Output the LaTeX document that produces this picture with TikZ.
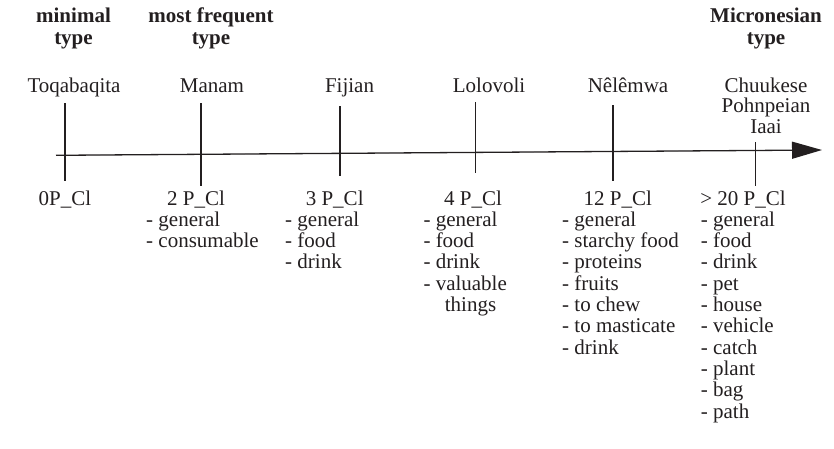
\documentclass[tikz,border=0pt]{standalone}
\usepackage{fontspec}
\setmainfont{Liberation Serif}
\usetikzlibrary{arrows.meta}
\definecolor{ink}{HTML}{231F20}
\begin{document}
\begin{tikzpicture}[x=1pt,y=-1pt,
  every node/.style={text=ink},
  txt/.style={font=\fontsize{21}{21}\selectfont, inner sep=0pt, anchor=base},
  bld/.style={txt, font=\fontsize{21}{21}\selectfont\bfseries},
  itm/.style={txt, anchor=base west},
  axisline/.style={draw=ink, fill=ink, line width=1.3pt, -{Triangle[length=30pt,width=17pt]}},
  tickline/.style={draw=ink, line width=1.4pt}]
\useasboundingbox (0,0) rectangle (834,448);
% type headings
\node[bld] (h1a) at (73.5,22) {minimal};
\node[bld] (h1b) at (73.5,44) {type};
\node[bld] (h2a) at (211,22) {most frequent};
\node[bld] (h2b) at (211,44) {type};
\node[bld] (h3a) at (766,22) {Micronesian};
\node[bld] (h3b) at (766,44) {type};
% languages
\node[txt] (l1) at (74,92) {Toqabaqita};
\node[txt] (l2) at (212,92) {Manam};
\node[txt] (l3) at (349.5,92) {Fijian};
\node[txt] (l4) at (489,92) {Lolovoli};
\node[txt] (l5) at (628,92) {Nêlêmwa};
\node[txt] (l6a) at (766,92) {Chuukese};
\node[txt] (l6b) at (766,112.7) {Pohnpeian};
\node[txt] (l6c) at (766,133.3) {Iaai};
% axis
\coordinate (axL) at (56,155.3);
\coordinate (axR) at (822,150);
\draw[axisline] (axL) -- (axR);
% ticks
\coordinate (t1a) at (65,103); \coordinate (t1b) at (65,181);
\coordinate (t2a) at (201,103); \coordinate (t2b) at (201,186);
\coordinate (t3a) at (340,106); \coordinate (t3b) at (340,176);
\coordinate (t4a) at (475.7,102); \coordinate (t4b) at (475.7,173);
\coordinate (t5a) at (613,105); \coordinate (t5b) at (613,181);
\coordinate (t6a) at (755.7,142); \coordinate (t6b) at (755.7,186);
\foreach \n in {1,...,6} \draw[tickline] (t\n a) -- (t\n b);
% counts
\node[txt] (c1) at (65,205) {0P\_Cl};
\node[txt] (c2) at (196,205) {2 P\_Cl};
\node[txt] (c3) at (334.7,205) {3 P\_Cl};
\node[txt] (c4) at (473,205) {4 P\_Cl};
\node[txt] (c5) at (617.7,205) {12 P\_Cl};
\node[txt] (c6) at (743,205) {> 20 P\_Cl};
% lists
\foreach \t [count=\k from 0] in {general, consumable}
  \node[itm] (ma\k) at (146,226.3+21.3*\k) {- \t};
\foreach \t [count=\k from 0] in {general, food, drink}
  \node[itm] (fi\k) at (285,226.3+21.3*\k) {- \t};
\foreach \t [count=\k from 0] in {general, food, drink, valuable}
  \node[itm] (lo\k) at (423.3,226.3+21.3*\k) {- \t};
\node[itm] (lo4) at (444.7,226.3+21.3*4) {things};
\foreach \t [count=\k from 0] in {general, starchy food, proteins, fruits, to chew, to masticate, drink}
  \node[itm] (ne\k) at (562,226.3+21.3*\k) {- \t};
\foreach \t [count=\k from 0] in {general, food, drink, pet, house, vehicle, catch, plant, bag, path}
  \node[itm] (mi\k) at (700.7,226.3+21.3*\k) {- \t};
\end{tikzpicture}
\end{document}
